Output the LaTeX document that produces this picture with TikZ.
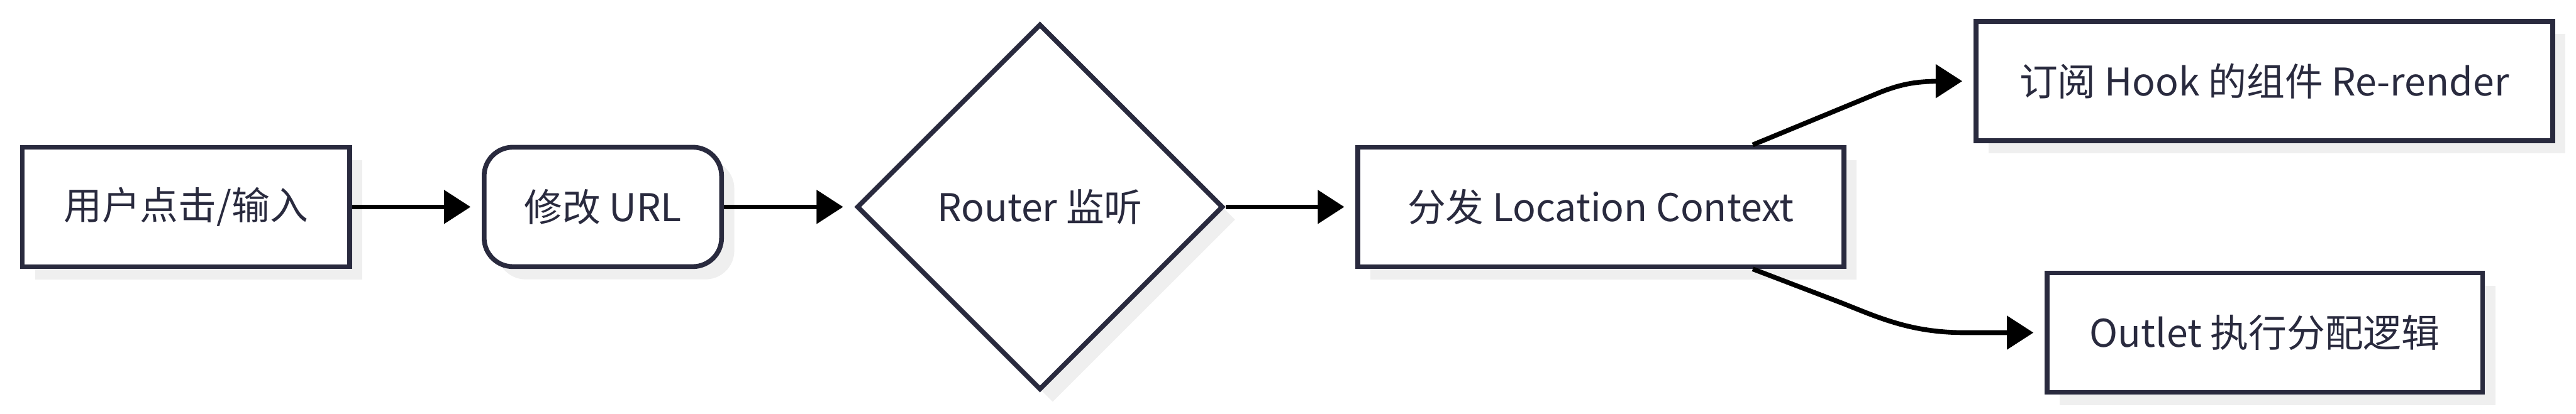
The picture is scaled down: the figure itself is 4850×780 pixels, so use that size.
\documentclass[tikz,border=0pt]{standalone}
\usepackage{fontspec}
\setmainfont{Noto Sans CJK SC}
\usetikzlibrary{shapes.geometric,arrows.meta,shadows,calc}
\definecolor{ink}{HTML}{292A3E}
\definecolor{shade}{HTML}{EFEFEF}
\tikzset{
  base/.style={draw=ink, line width=4.5pt, fill=white, text=ink, inner sep=0pt,
    font=\fontsize{36pt}{43pt}\selectfont,
    drop shadow={shadow xshift=12pt, shadow yshift=-12pt, fill=shade, opacity=1}},
  box/.style={base, rectangle, minimum height=112.5pt},
  rbox/.style={box, rounded corners=27pt},
  decision/.style={base, diamond, aspect=1, minimum width=345pt, minimum height=345pt},
  arr/.style={line width=4.5pt, draw=black, -{Triangle[length=25pt,width=31pt]}, shorten >=10.5pt}
}
\begin{document}
\begin{tikzpicture}[x=0.5pt, y=-0.5pt]
\useasboundingbox (0,0) rectangle (4850,780);
\node[box, minimum width=308pt] (n1) at (350,390) {用户点击/输入};
\node[rbox, minimum width=223.5pt] (n2) at (1135,390) {修改 URL};
\node[decision] (n3) at (1958,390) {Router 监听};
\node[box, minimum width=457.5pt] (n4) at (3014,390) {分发 Location Context};
\node[box, minimum width=543pt] (n5) at (4263,153) {订阅 Hook 的组件 Re-render};
\node[box, minimum width=410pt] (n6) at (4264,627) {Outlet 执行分配逻辑};

\draw[arr] (n1) -- (n2);
\draw[arr] (n2) -- (n3);
\draw[arr] (n3) -- (n4);
\draw[arr] ($(n4.north)+(286,0)$) -- (3530,178) .. controls (3580,157) and (3610,153) .. (3660,153) -- (n5.west);
\draw[arr] ($(n4.south)+(286,0)$) -- (3470,572) .. controls (3540,600) and (3600,627) .. (3700,627) -- (n6.west);
\end{tikzpicture}
\end{document}
